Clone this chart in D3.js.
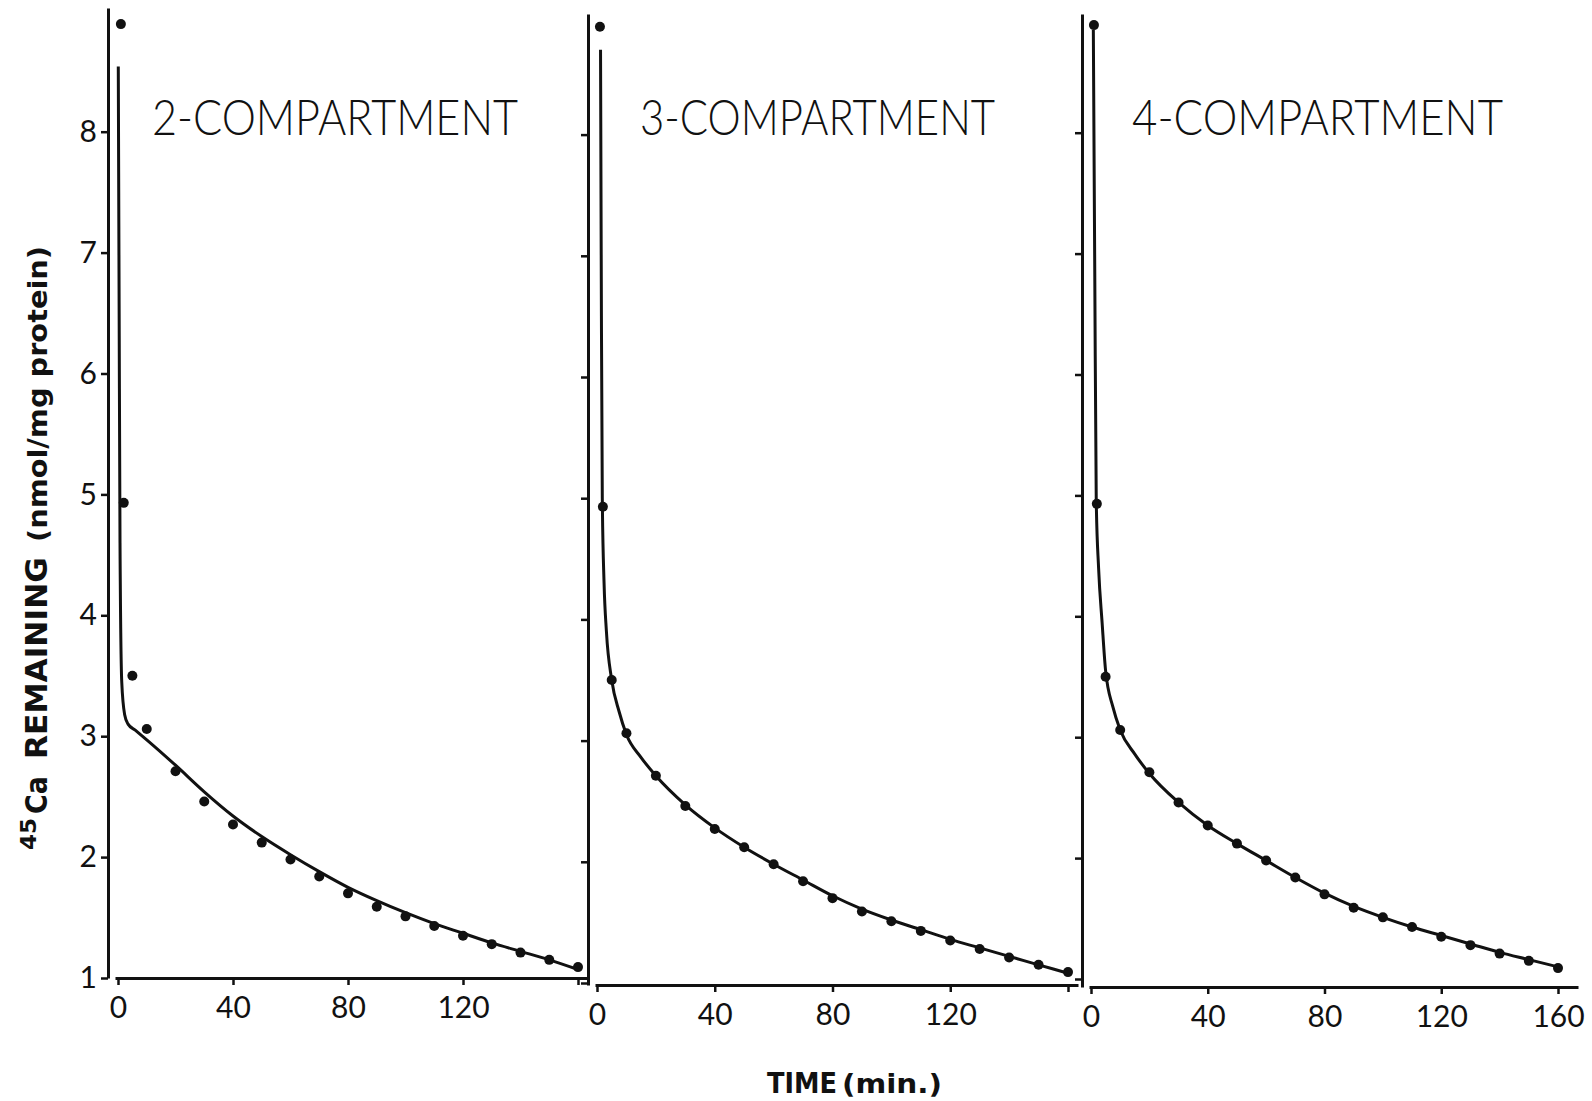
<!DOCTYPE html>
<html>
<head>
<meta charset="utf-8" />
<script src="https://d3js.org/d3.v7.min.js"></script>
<style>
  body { margin: 0; background: #fff; }
  svg { display: block; }
  .axis path, .axis line { stroke: #111; }
  .axis path { stroke-width: 3; }
  .axis line { stroke-width: 2.5; }
  .axis text { fill: #111; font-family: "Lato", "DejaVu Sans", sans-serif; font-size: 30px; }
  .title { fill: #111; font-family: "Lato", "DejaVu Sans", sans-serif; font-weight: 300; font-size: 50px; }
  .lab { fill: #111; font-family: "DejaVu Sans", sans-serif; font-weight: bold; }
  .fit { fill: none; stroke: #111; stroke-width: 3; }
</style>
</head>
<body>
<svg width="1592" height="1101"></svg>
<script>
// measured points (same data in all three panels)
const times = [1, 2, 5, 10, 20, 30, 40, 50, 60, 70, 80, 90, 100, 110, 120, 130, 140, 150, 160];
const remaining = [8.89, 4.93, 3.50, 3.06, 2.71, 2.46, 2.27, 2.12, 1.98, 1.84, 1.70, 1.59, 1.51, 1.43, 1.35, 1.28, 1.21, 1.15, 1.09];

// fitted curves
const fit2T = [0.1, 0.4, 0.7, 1.3, 2.3, 3.5, 6, 10, 20, 30, 40, 50, 60, 70, 80, 90, 100, 110, 120, 130, 140, 150, 160];
const fit2V = [8.54, 6.5, 4.6, 3.45, 3.18, 3.1, 3.05, 2.97, 2.76, 2.54, 2.34, 2.17, 2.02, 1.88, 1.75, 1.64, 1.54, 1.45, 1.37, 1.29, 1.22, 1.15, 1.07];
const fit3T = [1.2, 1.5, 1.8, 2.4, 3.2, 5, 7.5, 10, 15, 20, 30, 40, 50, 60, 70, 80, 90, 100, 110, 120, 130, 140, 150, 160];
const fit3V = [8.7, 6.5, 5.0, 4.3, 3.9, 3.5, 3.24, 3.05, 2.86, 2.71, 2.47, 2.28, 2.12, 1.98, 1.85, 1.72, 1.61, 1.52, 1.44, 1.36, 1.29, 1.22, 1.15, 1.08];
const fit4T = [0.8, 1.3, 1.8, 2.6, 3.8, 5, 7.5, 10, 15, 20, 30, 40, 50, 60, 70, 80, 90, 100, 110, 120, 130, 140, 150, 160];
const fit4V = [8.85, 6.8, 4.95, 4.4, 3.95, 3.55, 3.25, 3.06, 2.86, 2.70, 2.46, 2.27, 2.12, 1.98, 1.84, 1.71, 1.60, 1.51, 1.43, 1.36, 1.29, 1.22, 1.16, 1.10];

const titles = ["2-COMPARTMENT", "3-COMPARTMENT", "4-COMPARTMENT"];
const yTicks = [1, 2, 3, 4, 5, 6, 7, 8];
const xTicks = [0, 40, 80, 120, 160];

const fits = [[fit2T, fit2V], [fit3T, fit3V], [fit4T, fit4V]];

// hand-drawn panels are not perfectly aligned, so each one gets its own frame
const panels = [
  { axisX: 108, top: 8,  x0: 118,  x160: 578,  base: 978, ppu: 120.9, xAxisY: 978, xEnd: 588,  tx: 152,  tw: 366, ty: 135, showY: true,  show160: false },
  { axisX: 588, top: 14, x0: 597,  x160: 1068, base: 983, ppu: 121.2, xAxisY: 985, xEnd: 1078, tx: 640,  tw: 355, ty: 135, showY: false, show160: false },
  { axisX: 1082, top: 14, x0: 1091, x160: 1558, base: 979, ppu: 120.9, xAxisY: 987, xEnd: 1578, tx: 1132, tw: 371, ty: 135, showY: false, show160: true }
];

const svg = d3.select("svg");

panels.forEach((p, i) => {
  const y0 = d3.scaleLinear().domain([1, 8]).range([p.base, p.base - 7 * p.ppu]);
  const y = d3.scaleLinear().domain([y0.invert(p.xAxisY), y0.invert(p.top)]).range([p.xAxisY, p.top]);
  const x0 = d3.scaleLinear().domain([0, 160]).range([p.x0, p.x160]);
  const xStart = p.axisX + 7;
  const x = d3.scaleLinear().domain([x0.invert(xStart), x0.invert(p.xEnd)]).range([xStart, p.xEnd]);

  const yAxis = d3.axisLeft(y).tickValues(yTicks).tickSize(7).tickSizeOuter(0).tickPadding(4)
    .tickFormat(p.showY ? d3.format("d") : () => "");
  svg.append("g").attr("class", "axis")
    .attr("transform", `translate(${p.axisX},0)`)
    .call(yAxis);

  const xAxis = d3.axisBottom(x).tickValues(xTicks).tickSize(7).tickSizeOuter(0).tickPadding(12)
    .tickFormat(d => (d === 160 && !p.show160) ? "" : d);
  svg.append("g").attr("class", "axis")
    .attr("transform", `translate(0,${p.xAxisY})`)
    .call(xAxis);

  const [ft, fv] = fits[i];
  const line = d3.line()
    .x((d, j) => x(ft[j]))
    .y((d, j) => y(fv[j]))
    .curve(d3.curveMonotoneX);
  svg.append("path").attr("class", "fit").attr("d", line(ft));

  svg.append("g").selectAll("circle")
    .data(times)
    .join("circle")
    .attr("cx", (d) => x(d))
    .attr("cy", (d, j) => y(remaining[j]))
    .attr("r", 5)
    .attr("fill", "#111");

  svg.append("text").attr("class", "title")
    .attr("x", p.tx).attr("y", p.ty)
    .attr("textLength", p.tw).attr("lengthAdjust", "spacingAndGlyphs")
    .text(titles[i]);
});

// y axis label, rotated, built from pieces
const yl = svg.append("g").attr("transform", "translate(47,852) rotate(-90)");
yl.append("text").attr("class", "lab").attr("x", 2).attr("y", -11)
  .attr("font-size", 21).attr("textLength", 32).attr("lengthAdjust", "spacingAndGlyphs").text("45");
yl.append("text").attr("class", "lab").attr("x", 38).attr("y", 0)
  .attr("font-size", 30).attr("textLength", 38).attr("lengthAdjust", "spacingAndGlyphs").text("Ca");
yl.append("text").attr("class", "lab").attr("x", 93).attr("y", 0)
  .attr("font-size", 30).attr("textLength", 202).attr("lengthAdjust", "spacingAndGlyphs").text("REMAINING");
yl.append("text").attr("class", "lab").attr("x", 310).attr("y", 0)
  .attr("font-size", 27).attr("textLength", 296).attr("lengthAdjust", "spacingAndGlyphs").text("(nmol/mg protein)");

// x axis label
svg.append("text").attr("class", "lab").attr("x", 767).attr("y", 1093)
  .attr("font-size", 29).attr("textLength", 70).attr("lengthAdjust", "spacingAndGlyphs")
  .style("font-weight", 900).text("TIME");
svg.append("text").attr("class", "lab").attr("x", 842).attr("y", 1093)
  .attr("font-size", 27).attr("textLength", 100).attr("lengthAdjust", "spacingAndGlyphs").text("(min.)");
</script>
</body>
</html>
